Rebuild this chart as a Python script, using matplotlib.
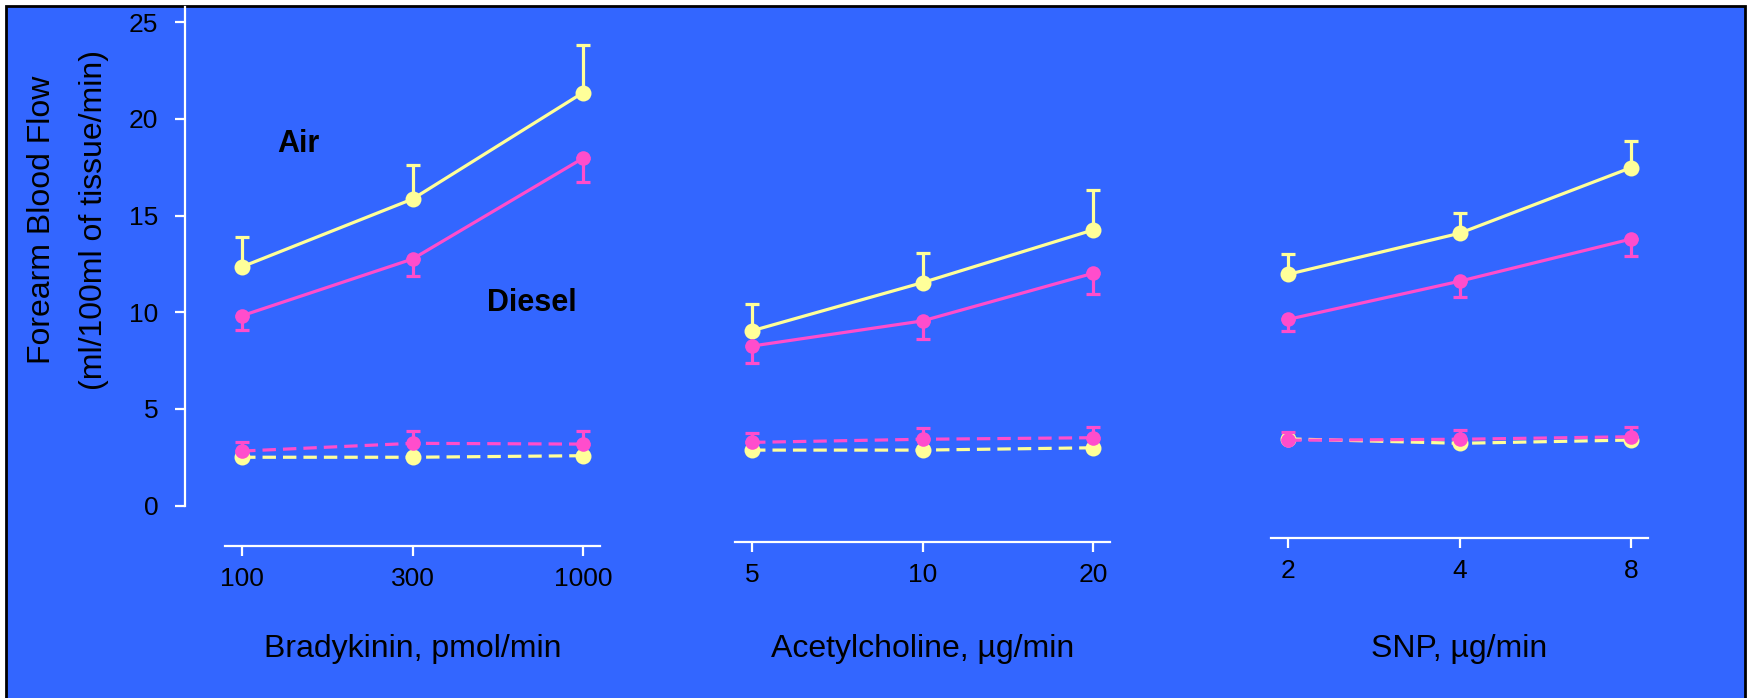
import matplotlib
matplotlib.use("Agg")
import matplotlib.pyplot as plt
import matplotlib.transforms as mtransforms
from matplotlib import font_manager
from matplotlib.font_manager import FontProperties
from matplotlib.patches import Rectangle

plt.rcParams['font.family'] = ['Liberation Sans', 'DejaVu Sans']

# tick labels in the picture use an Arial Narrow look; use one if installed
narrow_file = None
for f in font_manager.fontManager.ttflist:
    if (f.name in ('Liberation Sans Narrow', 'Arial Narrow')
            and f.style == 'normal' and f.weight in (400, 'normal', 'regular')):
        narrow_file = f.fname
        break
if narrow_file:
    tick_fp = FontProperties(fname=narrow_file, size=20.5)
else:
    tick_fp = FontProperties(family='Liberation Sans', size=19)

W, H = 1750, 698

# Data
panel_names = ['Bradykinin, pmol/min', 'Acetylcholine, µg/min', 'SNP, µg/min']
dose_labels = [['100', '300', '1000'], ['5', '10', '20'], ['2', '4', '8']]

# infused arm, solid lines
air_solid = [[12.35, 15.85, 21.35], [9.04, 11.53, 14.25], [11.96, 14.08, 17.47]]
air_solid_sem = [[1.52, 1.75, 2.45], [1.40, 1.53, 2.05], [1.03, 1.07, 1.37]]
diesel_solid = [[9.82, 12.75, 17.96], [8.25, 9.55, 12.01], [9.63, 11.60, 13.78]]
diesel_solid_sem = [[0.74, 0.88, 1.24], [0.88, 0.95, 1.08], [0.62, 0.80, 0.88]]

# non-infused arm, dashed lines
air_dashed = [[2.50, 2.50, 2.58], [2.87, 2.87, 2.99], [3.45, 3.22, 3.39]]
diesel_dashed = [[2.82, 3.22, 3.18], [3.27, 3.43, 3.51], [3.38, 3.43, 3.56]]
diesel_dashed_sem = [[0.45, 0.62, 0.66], [0.50, 0.57, 0.57], [0.42, 0.48, 0.52]]

y_ticks = [0, 5, 10, 15, 20, 25]

YELLOW = '#FFFF99'
PINK = '#FF4DCC'
BLUE = '#3366FF'
DASH = (0, (4.2, 2.2))


def series(ax, x, y, color, ms, ls='-', lower=None, upper=None, z=3):
    if lower is not None or upper is not None:
        lo = lower if lower is not None else [0] * len(y)
        up = upper if upper is not None else [0] * len(y)
        ax.errorbar(x, y, yerr=[lo, up], fmt='none', ecolor=color,
                    elinewidth=2.3, capsize=5, capthick=2.3, zorder=z)
    ax.plot(x, y, color=color, lw=2.3, ls=ls, marker='o', ms=ms,
            mew=0, zorder=z + 0.5)


fig = plt.figure(figsize=(W / 100, H / 100), dpi=100, facecolor='white')

# blue slide box with black border
box = Rectangle((6 / W, -0.02), (1745 - 6) / W, 1 - 6 / H + 0.02,
                transform=fig.transFigure, facecolor=BLUE,
                edgecolor='black', linewidth=2, zorder=-10)
fig.add_artist(box)

# pixel layout of the three panels: (left, right, xlim_left)
layout = [(185, 600, -0.335), (735, 1110, -0.1), (1271, 1648, -0.1)]
spine_y = [-2.07, -1.87, -1.69]

y0, y1 = -3.0, 25.8
ax_bottom = 505.6 + (-y0) * 19.34
ax_top = 505.6 - y1 * 19.34

for i in range(3):
    left, right, xl = layout[i]
    ax = fig.add_axes([left / W, 1 - ax_bottom / H,
                       (right - left) / W, (ax_bottom - ax_top) / H])
    ax.set_facecolor('none')
    ax.set_xlim(xl, 2.1)
    ax.set_ylim(y0, y1)
    x = [0, 1, 2]

    series(ax, x, air_dashed[i], YELLOW, 11.5, ls=DASH, z=3)
    series(ax, x, diesel_dashed[i], PINK, 10.5, ls=DASH,
           upper=diesel_dashed_sem[i], z=4)
    series(ax, x, air_solid[i], YELLOW, 11.5, upper=air_solid_sem[i], z=3)
    series(ax, x, diesel_solid[i], PINK, 10.5, lower=diesel_solid_sem[i], z=4)

    for s in ['top', 'right']:
        ax.spines[s].set_visible(False)
    ax.spines['bottom'].set_position(('data', spine_y[i]))
    ax.spines['bottom'].set_bounds(-0.1, 2.1)
    ax.spines['bottom'].set_color('white')
    ax.spines['bottom'].set_linewidth(1.6)

    ax.set_xticks(x)
    ax.set_xticklabels(dose_labels[i], fontproperties=tick_fp)
    ax.tick_params(axis='x', direction='out', length=7.2, width=1.6,
                   color='white', labelcolor='black', pad=8)

    if i == 0:
        ax.spines['left'].set_color('white')
        ax.spines['left'].set_linewidth(1.6)
        ax.spines['left'].set_bounds(0, y1)
        ax.set_yticks(y_ticks)
        ax.set_yticklabels([str(t) for t in y_ticks], fontproperties=tick_fp)
        ax.tick_params(axis='y', direction='out', length=7.2, width=1.6,
                       color='white', labelcolor='black', pad=12)
    else:
        ax.spines['left'].set_visible(False)
        ax.set_yticks([])

    trans = mtransforms.blended_transform_factory(ax.transData, fig.transFigure)
    ax.text(1, 1 - 657 / H, panel_names[i], transform=trans, ha='center',
            va='baseline', fontsize=23, color='black')

# y axis label, two lines
fig.text(50 / W, 1 - 220 / H, 'Forearm Blood Flow', rotation=90,
         rotation_mode='anchor', ha='center', va='baseline', fontsize=23)
fig.text(102 / W, 1 - 220 / H, '(ml/100ml of tissue/min)', rotation=90,
         rotation_mode='anchor', ha='center', va='baseline', fontsize=23)

# series labels
fig.text(277 / W, 1 - 151.7 / H, 'Air', ha='left', va='baseline',
         fontsize=22, fontweight='bold')
fig.text(487 / W, 1 - 310.7 / H, 'Diesel', ha='left', va='baseline',
         fontsize=22, fontweight='bold')

fig.savefig('out.png', dpi=100, facecolor='white')
